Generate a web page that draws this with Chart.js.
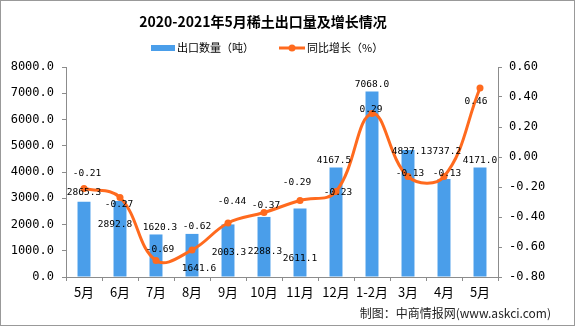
<!DOCTYPE html>
<html>
<head>
<meta charset="utf-8">
<script src="https://cdn.jsdelivr.net/npm/chart.js@4.4.1/dist/chart.umd.min.js"></script>
<style>
  html, body { margin: 0; padding: 0; background: #fff; }
  #wrap { width: 575px; height: 326px; position: relative; }
</style>
</head>
<body>
<div id="wrap"><canvas id="rareEarthChart" width="575" height="326"></canvas></div>
<script>
// 数据
const categories = ['5月', '6月', '7月', '8月', '9月', '10月', '11月', '12月', '1-2月', '3月', '4月', '5月'];
const exportVolume = [2865.3, 2892.8, 1620.3, 1641.6, 2003.3, 2288.3, 2611.1, 4167.5, 7068.0, 4837.1, 3737.2, 4171.0];
const yoyGrowth = [-0.21, -0.27, -0.69, -0.62, -0.44, -0.37, -0.29, -0.23, 0.29, -0.13, -0.13, 0.46];

const titleText = '2020-2021年5月稀土出口量及增长情况';
const barName = '出口数量（吨）';
const lineName = '同比增长（%）';
const sourceText = '制图：中商情报网(www.askci.com)';

const BAR_COLOR = '#4A9EEA';
const LINE_COLOR = '#FF6A1E';
const AXIS_COLOR = '#8c8c8c';
const CJK = '"Noto Sans CJK SC", "Noto Sans", sans-serif';
const MONO = '"DejaVu Sans Mono", "Liberation Mono", monospace';

// 数据标签的偏移（像素），模仿原图里的摆放
const barLabelOffset = [[0, -9], [-5, 23], [4, -7], [7, 35], [1, 28], [1, 35], [0, 50], [-2, -7], [0, -7], [1, 2], [0, -27], [0, -7]];
const lineLabelOffset = [[3, -15], [-1, 7], [4, -11], [5, -23], [4, -21], [2, -7], [-3, -18], [2, 1], [-1, -4], [2, -3], [3, -3], [-4, 14]];

// 标题、图例、来源、边框
const decorPlugin = {
    id: 'decor',
    beforeDraw(chart) {
        const c = chart.ctx;
        c.save();
        c.fillStyle = '#fff';
        c.fillRect(0, 0, chart.width, chart.height);
        c.restore();
    },
    afterDraw(chart) {
        const c = chart.ctx;
        c.save();
        c.fillStyle = '#000';
        c.textBaseline = 'middle';
        c.textAlign = 'center';
        c.font = 'bold 14px ' + CJK;
        c.fillText(titleText, 263, 22);

        // 图例
        c.textAlign = 'left';
        c.font = '11px ' + CJK;
        c.fillStyle = BAR_COLOR;
        c.fillRect(151, 45, 24, 6);
        c.fillStyle = '#000';
        c.fillText(barName, 177, 48);

        c.strokeStyle = LINE_COLOR;
        c.lineWidth = 3;
        c.beginPath();
        c.moveTo(279, 48);
        c.lineTo(305, 48);
        c.stroke();
        c.fillStyle = LINE_COLOR;
        c.beginPath();
        c.arc(292, 48, 3.5, 0, Math.PI * 2);
        c.fill();
        c.fillStyle = '#000';
        c.fillText(lineName, 307, 48);

        // 来源
        c.textAlign = 'right';
        c.font = '12px ' + CJK;
        c.fillStyle = '#222';
        c.fillText(sourceText, 551, 313);

        // 外框
        c.strokeStyle = '#999';
        c.lineWidth = 1;
        c.strokeRect(0.5, 0.5, chart.width - 1, chart.height - 1);
        c.restore();
    }
};

// 数据标签
const valueLabelPlugin = {
    id: 'valueLabels',
    afterDatasetsDraw(chart) {
        const c = chart.ctx;
        c.save();
        c.font = '9.5px ' + MONO;
        c.fillStyle = '#000';
        c.textAlign = 'center';
        c.textBaseline = 'middle';
        const barMeta = chart.getDatasetMeta(0);
        barMeta.data.forEach((el, i) => {
            const o = barLabelOffset[i];
            c.fillText(exportVolume[i].toFixed(1), el.x + o[0], el.y + o[1]);
        });
        const lineMeta = chart.getDatasetMeta(1);
        lineMeta.data.forEach((el, i) => {
            const o = lineLabelOffset[i];
            c.fillText(yoyGrowth[i].toFixed(2), el.x + o[0], el.y + o[1]);
        });
        c.restore();
    }
};

const ctx = document.getElementById('rareEarthChart').getContext('2d');
new Chart(ctx, {
    data: {
        labels: categories,
        datasets: [
            {
                type: 'bar',
                label: barName,
                data: exportVolume,
                backgroundColor: BAR_COLOR,
                yAxisID: 'y',
                categoryPercentage: 1,
                barPercentage: 0.36,
                order: 2
            },
            {
                type: 'line',
                label: lineName,
                data: yoyGrowth,
                borderColor: LINE_COLOR,
                backgroundColor: LINE_COLOR,
                borderWidth: 3,
                tension: 0.4,
                pointRadius: 3.5,
                pointBorderWidth: 0,
                yAxisID: 'y1',
                order: 1
            }
        ]
    },
    options: {
        responsive: false,
        animation: false,
        layout: { padding: { top: 67, left: 0, right: 0, bottom: 20 } },
        plugins: {
            legend: { display: false },
            title: { display: false },
            tooltip: { enabled: false }
        },
        scales: {
            x: {
                offset: true,
                grid: { display: true, drawOnChartArea: false, drawTicks: true, tickLength: 4, color: AXIS_COLOR, offset: true },
                border: { color: AXIS_COLOR },
                ticks: { color: '#000', font: { family: CJK, size: 13 }, padding: 3, maxRotation: 0, autoSkip: false },
                afterFit(scale) { scale.height = 29; }
            },
            y: {
                position: 'left',
                min: 0,
                max: 8000,
                grid: { drawOnChartArea: false, tickLength: 4, color: AXIS_COLOR },
                border: { color: AXIS_COLOR },
                ticks: {
                    stepSize: 1000,
                    color: '#000',
                    padding: 8,
                    font: { family: MONO, size: 12 },
                    callback: v => Number(v).toFixed(1)
                },
                afterFit(scale) { scale.width = 66; }
            },
            y1: {
                position: 'right',
                min: -0.8,
                max: 0.6,
                grid: { drawOnChartArea: false, tickLength: 4, color: AXIS_COLOR },
                border: { color: AXIS_COLOR },
                ticks: {
                    stepSize: 0.2,
                    color: '#000',
                    padding: 7,
                    font: { family: MONO, size: 12 },
                    callback: v => (Math.abs(v) < 1e-9 ? 0 : Number(v)).toFixed(2)
                },
                afterFit(scale) { scale.width = 77; }
            }
        }
    },
    plugins: [decorPlugin, valueLabelPlugin]
});
</script>
</body>
</html>
